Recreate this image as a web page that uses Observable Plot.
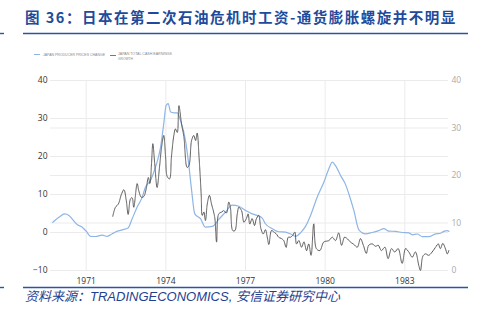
<!DOCTYPE html>
<html>
<head>
<meta charset="utf-8">
<script src="https://cdn.jsdelivr.net/npm/d3@7"></script>
<script src="https://cdn.jsdelivr.net/npm/@observablehq/plot@0.6"></script>
<style>
  html, body { margin: 0; padding: 0; background: #fff; }
  #wrap { position: relative; width: 479px; height: 312px; overflow: hidden; }
  #wrap svg.overlay { position: absolute; left: 0; top: 0; }
  #chart { position: absolute; left: 0; top: 0; }
  .title { position: absolute; left: 25px; top: 6px; font-family: "Noto Sans CJK SC", sans-serif; font-weight: 700; font-size: 14.5px; letter-spacing: 1.5px; color: #1e4b9b; white-space: nowrap; }
  .caption { position: absolute; left: 25px; top: 286px; font-family: "Liberation Sans", "Noto Sans CJK SC", sans-serif; font-style: italic; font-size: 13px; color: #1f3f8f; white-space: nowrap; }
</style>
</head>
<body>
<div id="wrap">
  <div id="chart"></div>
  <svg class="overlay" width="479" height="312" id="overlay"></svg>
  <div class="title">图 36：日本在第二次石油危机时工资-通货膨胀螺旋并不明显</div>
  <div class="caption">资料来源：TRADINGECONOMICS, 安信证券研究中心</div>
</div>
<script>
// ---- Data ----
const seriesNames = ["JAPAN PRODUCER PRICES CHANGE", "JAPAN TOTAL CASH EARNINGS", "GROWTH"];

// Japan producer prices change (%), left axis
const ppiDates = [1969.74,1969.97,1970.19,1970.35,1970.47,1970.66,1970.85,1971.00,1971.16,1971.35,1971.60,1971.79,1971.98,1972.17,1972.36,1972.58,1972.73,1972.92,1973.11,1973.23,1973.42,1973.61,1973.80,1973.92,1974.01,1974.09,1974.18,1974.30,1974.43,1974.55,1974.74,1974.86,1974.97,1975.09,1975.31,1975.49,1975.75,1976.00,1976.25,1976.50,1976.75,1977.00,1977.25,1977.44,1977.63,1977.75,1978.01,1978.25,1978.51,1978.70,1978.88,1979.07,1979.26,1979.45,1979.70,1979.95,1980.14,1980.27,1980.39,1980.58,1980.77,1980.89,1981.08,1981.27,1981.52,1981.77,1982.02,1982.21,1982.40,1982.65,1982.90,1983.15,1983.28,1983.47,1983.66,1983.90,1984.16,1984.34,1984.47,1984.60,1984.66];
const ppiValues = [2.7,4.0,4.9,4.5,3.6,2.1,1.4,0.35,-1.0,-1.05,-0.7,-1.0,-0.35,0.35,0.7,1.2,3.6,6.7,9.3,11.9,13.7,17.2,22.4,28.6,33.4,33.9,31.7,31.5,31.5,29.5,24.2,18.1,11.1,4.9,3.6,1.4,1.6,3.5,5.4,7.2,6.9,5.8,4.9,4.5,3.8,2.3,1.0,0.2,0.1,-0.4,-1.0,-0.1,1.6,4.5,9.3,13.2,16.8,18.5,17.6,15.0,12.6,10.2,5.8,0.7,-0.35,0.0,0.5,1.0,0.35,0.3,0.0,-0.1,-0.6,-0.4,-1.1,-1.1,-0.35,-0.2,0.3,0.5,0.3];

// Japan total cash earnings growth (%), right axis
const wageDates = [1972.00,1972.10,1972.21,1972.33,1972.42,1972.51,1972.58,1972.67,1972.73,1972.79,1972.92,1972.98,1973.08,1973.17,1973.26,1973.34,1973.40,1973.46,1973.51,1973.58,1973.67,1973.76,1973.84,1973.92,1973.99,1974.05,1974.14,1974.21,1974.30,1974.36,1974.43,1974.49,1974.59,1974.68,1974.80,1974.87,1974.97,1975.05,1975.12,1975.18,1975.25,1975.33,1975.37,1975.43,1975.49,1975.56,1975.64,1975.72,1975.84,1975.91,1975.99,1976.10,1976.18,1976.28,1976.37,1976.43,1976.52,1976.60,1976.69,1976.75,1976.85,1976.94,1977.03,1977.10,1977.16,1977.25,1977.34,1977.41,1977.50,1977.58,1977.67,1977.75,1977.82,1977.88,1977.98,1978.07,1978.16,1978.25,1978.36,1978.44,1978.53,1978.61,1978.69,1978.78,1978.86,1978.92,1979.01,1979.11,1979.20,1979.30,1979.38,1979.47,1979.57,1979.67,1979.80,1979.95,1980.14,1980.27,1980.39,1980.51,1980.62,1980.73,1980.83,1980.95,1981.08,1981.21,1981.33,1981.44,1981.55,1981.64,1981.77,1981.90,1982.00,1982.12,1982.25,1982.37,1982.50,1982.62,1982.75,1982.90,1983.03,1983.15,1983.28,1983.40,1983.53,1983.59,1983.68,1983.78,1983.90,1984.03,1984.16,1984.26,1984.34,1984.43,1984.53,1984.60,1984.66];
const wageValues = [11.4,13.3,14.0,16.1,17.0,14.7,11.8,15.1,15.3,13.3,18.3,16.8,15.4,15.6,17.2,19.6,18.3,22.5,26.7,22.5,17.5,21.7,26.0,28.4,23.9,19.8,19.3,23.9,28.4,29.8,29.1,34.7,30.9,28.1,21.7,22.1,27.4,28.4,27.4,28.9,23.9,16.1,11.6,12.3,10.5,14.0,15.8,14.0,11.2,6.0,11.9,12.3,12.6,12.1,14.4,13.3,8.4,8.4,11.9,13.3,12.6,10.2,10.9,11.9,9.8,10.9,9.5,10.9,11.6,8.8,7.7,8.6,7.0,5.5,8.4,8.1,7.7,7.0,6.7,6.3,4.9,7.0,7.0,7.4,8.1,5.6,6.3,4.9,6.0,4.2,5.6,3.2,9.8,4.6,4.2,6.0,6.3,7.0,6.3,7.9,5.3,7.0,6.7,6.0,5.5,4.9,6.7,5.3,3.6,5.3,5.6,5.1,5.3,4.2,4.9,2.5,4.6,3.9,4.6,1.5,4.6,3.9,2.8,3.9,1.0,0.0,3.0,3.5,3.2,3.9,4.9,5.6,4.6,5.7,4.6,3.5,4.2];

const leftTicks = [-10, 0, 10, 20, 30, 40];
const rightTicks = [0, 10, 20, 30, 40];
const xTicks = [1971, 1974, 1977, 1980, 1983];

// ---- Build ----
// right axis (0..40) shares the plot height with left axis (-10..40)
const toLeft = r => r * 1.25 - 10;
const fromLeft = l => Math.round((l + 10) / 1.25);

const ppi = ppiDates.map((d, i) => ({date: d, value: ppiValues[i]}));
const wage = wageDates.map((d, i) => ({date: d, value: toLeft(wageValues[i])}));

const grid = "#ebebeb";
const chart = Plot.plot({
  width: 479,
  height: 312,
  marginTop: 80,
  marginBottom: 42,
  marginLeft: 50,
  marginRight: 31,
  style: {fontFamily: "'Open Sans', 'Liberation Sans', sans-serif", fontSize: "8.5px", background: "transparent"},
  x: {domain: [1969.655, 1984.646]},
  y: {domain: [-10, 40]},
  marks: [
    Plot.gridY(leftTicks, {stroke: grid, strokeOpacity: 1}),
    Plot.gridY(rightTicks.map(toLeft), {stroke: grid, strokeOpacity: 1}),
    Plot.gridX(xTicks, {stroke: grid, strokeOpacity: 1}),
    Plot.axisY(leftTicks, {tickSize: 0, tickPadding: 3, label: null, color: "#333"}),
    Plot.axisY(rightTicks.map(toLeft), {anchor: "right", tickSize: 0, tickPadding: 3, label: null, color: "#aaa", tickFormat: d => String(fromLeft(d))}),
    Plot.axisX(xTicks, {tickSize: 0, tickPadding: 7, label: null, color: "#333", tickFormat: d => String(d)}),
    Plot.line(ppi, {x: "date", y: "value", stroke: "#8db5e6", strokeWidth: 1.2, curve: "monotone-x"}),
    Plot.line(wage, {x: "date", y: "value", stroke: "#555555", strokeWidth: 1, strokeDasharray: "1,0.8", curve: "catmull-rom"})
  ]
});
document.getElementById("chart").appendChild(chart);

// ---- Decorations: rules and legend ----
const ov = d3.select("#overlay");
const blueRule = "#2a55a5";
[[33.5], [287.5]].forEach(([y]) => {
  ov.append("line").attr("x1", 23).attr("x2", 468).attr("y1", y).attr("y2", y).attr("stroke", blueRule).attr("stroke-width", 1.4);
  ov.append("line").attr("x1", 0).attr("x2", 4).attr("y1", y).attr("y2", y).attr("stroke", blueRule).attr("stroke-width", 1.4);
});
const lg = ov.append("g").attr("font-family", "'Liberation Sans', sans-serif").attr("font-size", 3.6).attr("fill", "#888");
lg.append("line").attr("x1", 34).attr("x2", 40).attr("y1", 54.5).attr("y2", 54.5).attr("stroke", "#8db5e6").attr("stroke-width", 1);
lg.append("text").attr("x", 43).attr("y", 55.8).attr("textLength", 62).attr("lengthAdjust", "spacingAndGlyphs").text(seriesNames[0]);
lg.append("line").attr("x1", 110).attr("x2", 116).attr("y1", 55.5).attr("y2", 55.5).attr("stroke", "#555").attr("stroke-width", 0.8);
lg.append("text").attr("x", 118).attr("y", 55.3).attr("textLength", 54).attr("lengthAdjust", "spacingAndGlyphs").text(seriesNames[1]);
lg.append("text").attr("x", 118).attr("y", 59.8).attr("textLength", 15).attr("lengthAdjust", "spacingAndGlyphs").text(seriesNames[2]);
</script>
</body>
</html>
